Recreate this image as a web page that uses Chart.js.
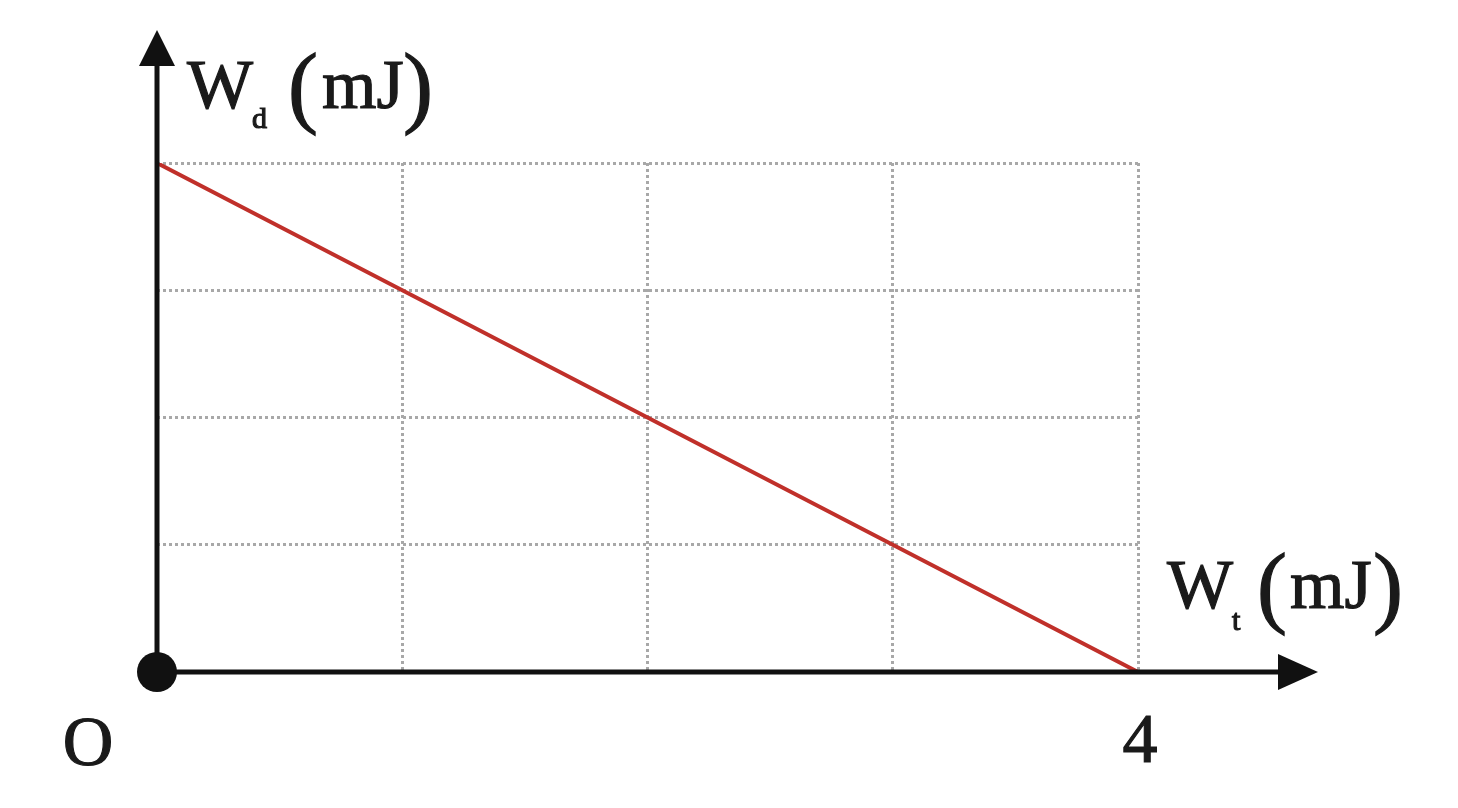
<!DOCTYPE html>
<html>
<head>
<meta charset="utf-8">
<script src="https://cdn.jsdelivr.net/npm/chart.js@4.4.1/dist/chart.umd.min.js"></script>
<style>
    html, body { margin: 0; padding: 0; background: #fff; }
    #wrap { width: 1458px; height: 808px; }
</style>
</head>
<body>
<div id="wrap"><canvas id="grafica"></canvas></div>
<script>
// Datos
const wtValues = [0, 1, 2, 3, 4];   // W_t (mJ)
const wdValues = [4, 3, 2, 1, 0];   // W_d (mJ)
const xTickLabels = ['4'];          // unica marca con texto en el eje x
const originLabel = 'O';

const serif = '"Liberation Serif", "DejaVu Serif", serif';

// Ejes con flecha, punto en el origen y rotulos
const ejesPlugin = {
    id: 'ejes',
    afterDatasetsDraw(chart) {
        const ctx = chart.ctx;
        const x = chart.scales.x;
        const y = chart.scales.y;
        const x0 = x.getPixelForValue(0);
        const y0 = y.getPixelForValue(0);
        const x4 = x.getPixelForValue(4);

        ctx.save();
        ctx.strokeStyle = '#111';
        ctx.fillStyle = '#111';
        ctx.lineWidth = 5;

        // eje vertical
        ctx.beginPath();
        ctx.moveTo(x0, y0);
        ctx.lineTo(x0, 55);
        ctx.stroke();
        ctx.beginPath();
        ctx.moveTo(x0, 30);
        ctx.lineTo(x0 - 18, 66);
        ctx.lineTo(x0 + 18, 66);
        ctx.closePath();
        ctx.fill();

        // eje horizontal
        ctx.beginPath();
        ctx.moveTo(x0, y0);
        ctx.lineTo(1290, y0);
        ctx.stroke();
        ctx.beginPath();
        ctx.moveTo(1318, y0);
        ctx.lineTo(1278, y0 - 18);
        ctx.lineTo(1278, y0 + 18);
        ctx.closePath();
        ctx.fill();

        // punto del origen
        ctx.beginPath();
        ctx.arc(x0, y0, 20, 0, Math.PI * 2);
        ctx.fill();

        ctx.fillStyle = '#1a1a1a';
        ctx.strokeStyle = '#1a1a1a';
        ctx.lineWidth = 1.2;
        ctx.textBaseline = 'alphabetic';
        ctx.textAlign = 'left';

        const texto = (t, px, tx, ty) => {
            ctx.font = px + 'px ' + serif;
            ctx.fillText(t, tx, ty);
            ctx.strokeText(t, tx, ty);
        };

        // W_d (mJ)
        texto('W', 70, x0 + 30, 108);
        texto('d', 30, x0 + 95, 128);
        texto('(', 90, x0 + 131, 116);
        texto(')', 90, x0 + 246, 116);
        texto('mJ', 70, x0 + 165, 108);

        // W_t (mJ)
        texto('W', 70, x4 + 29, 608);
        texto('t', 30, x4 + 94, 630);
        texto('(', 90, x4 + 119, 616);
        texto(')', 90, x4 + 235, 616);
        texto('mJ', 70, x4 + 152, 608);

        // O y 4
        ctx.textAlign = 'center';
        texto(originLabel, 70, x0 - 69, 765);
        xTickLabels.forEach(t => {
            texto(t, 70, x.getPixelForValue(Number(t)) + 2, 762);
        });
        ctx.restore();
    }
};

const ctx = document.getElementById('grafica').getContext('2d');

const grafica = new Chart(ctx, {
    type: 'line',
    data: {
        labels: wtValues,
        datasets: [{
            data: wtValues.map((v, i) => ({ x: v, y: wdValues[i] })),
            borderColor: '#c0302a',
            borderWidth: 4,
            pointRadius: 0,
            fill: false,
            tension: 0,
        }]
    },
    options: {
        responsive: true,
        maintainAspectRatio: false,
        animation: false,
        layout: {
            padding: { left: 157, right: 320, top: 163, bottom: 136 }
        },
        plugins: {
            legend: { display: false },
            tooltip: { enabled: false }
        },
        scales: {
            x: {
                type: 'linear',
                min: 0,
                max: 4,
                border: { display: false, dash: [3, 3] },
                grid: {
                    color: '#a8a8a8',
                    lineWidth: 3,
                    drawTicks: false,
                },
                ticks: { display: false, stepSize: 1 },
            },
            y: {
                type: 'linear',
                min: 0,
                max: 4,
                border: { display: false, dash: [3, 3] },
                grid: {
                    color: '#a8a8a8',
                    lineWidth: 3,
                    drawTicks: false,
                },
                ticks: { display: false, stepSize: 1 },
            }
        }
    },
    plugins: [ejesPlugin]
});
</script>
</body>
</html>
